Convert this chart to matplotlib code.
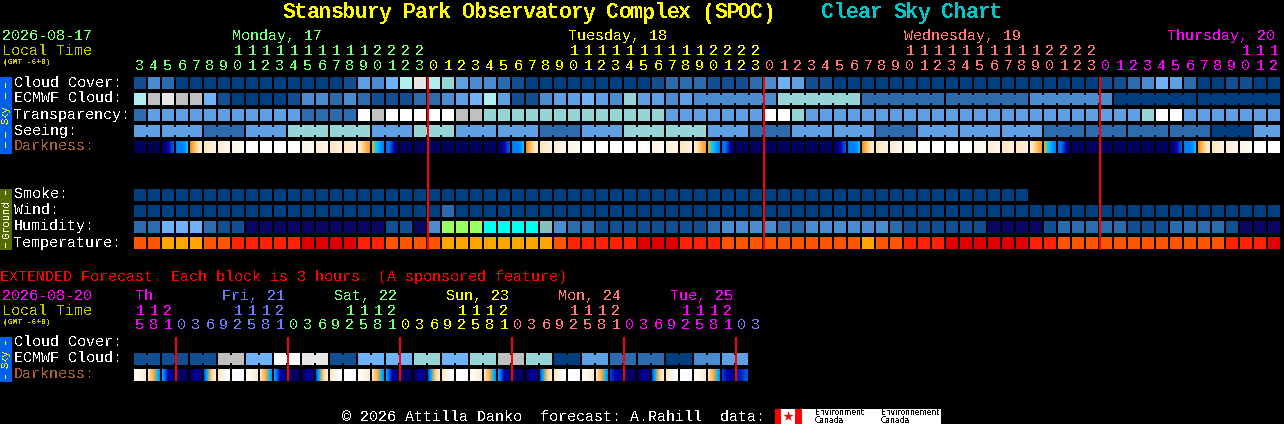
import matplotlib
matplotlib.use('Agg')
import matplotlib.pyplot as plt
from matplotlib.colors import LinearSegmentedColormap

plt.rcParams['text.antialiased'] = False

# level -> colour for the block rows
level_colors = ['#003f7f', '#124f92', '#2c6cae', '#4b8bcf', '#5f9fe3', '#70b2f8',
                '#95d5d5', '#aeeeee', '#c0c0c0', '#e6e6e6', '#ffffff',
                '#0a0560', '#99ff66', '#00ffee', '#85bfbf']
temp_colors = {'o': '#ff5500', 'a': '#ffa500', 'r': '#ff2200', 'd': '#e00000'}

# column hours
col_hours = [3, 4, 5, 6, 7, 8, 9, 10, 11, 12, 13, 14, 15, 16, 17, 18, 19, 20, 21, 22, 23,
             0, 1, 2, 3, 4, 5, 6, 7, 8, 9, 10, 11, 12, 13, 14, 15, 16, 17, 18, 19, 20, 21, 22, 23,
             0, 1, 2, 3, 4, 5, 6, 7, 8, 9, 10, 11, 12, 13, 14, 15, 16, 17, 18, 19, 20, 21, 22, 23,
             0, 1, 2, 3, 4, 5, 6, 7, 8, 9, 10, 11, 12]
day_spans = [21, 24, 24, 13]
day_colors = ['#77ff77', '#ffff00', '#ff7777', '#ff00ff']
day_names = ['Monday, 17', 'Tuesday, 18', 'Wednesday, 19', 'Thursday, 20']
day_x = [232, 568, 904, 1167]

cloud_cover = [1, 3, 2, 0, 0, 0, 0, 0, 0, 0, 0, 0, 0, 0, 0, 1, 4, 3, 5, 7, 9,
               7, 6, 4, 3, 3, 2, 1, 0, 0, 0, 0, 0, 0, 0, 0, 0, 1, 2, 2, 2, 1, 1, 1, 2,
               3, 5, 4, 1, 1, 0, 0, 0, 0, 0, 0, 0, 0, 0, 0, 0, 0, 0, 0, 0, 0, 0, 0, 0,
               1, 1, 2, 3, 5, 4, 2, 0, 0, 1, 1, 0, 0]
ecmwf_cloud = [7, 8, 9, 8, 8, 5, 1, 0, 0, 0, 0, 1, 3, 3, 2, 3, 2, 1, 1, 1, 2,
               2, 3, 4, 5, 7, 4, 1, 1, 3, 4, 4, 5, 4, 3, 6, 4, 4, 3, 4,
               3, 3, 3, 3, 3, 3, 6, 6, 6, 6, 6, 6, 2, 2, 2, 2, 2, 2, 2, 2, 2, 2, 2, 2,
               3, 3, 3, 3, 3, 3, 0, 0, 0, 0, 0, 0, 0, 0, 0, 0, 0, 0]
ecmwf_groups = [1] * 40 + [6] * 7
transparency = [2, 4, 4, 4, 4, 4, 4, 4, 4, 4, 4, 4, 2, 2, 2, 2, 10, 8, 10, 10, 10,
                10, 10, 8, 8, 6, 6, 6, 6, 6, 6, 6, 6, 6, 6, 6, 6, 6, 4, 4, 4, 4, 4, 4, 4,
                10, 10, 6, 4, 4, 4, 4, 4, 4, 4, 4, 4, 4, 4, 4, 4, 4, 4, 4, 4, 4, 4, 4, 4,
                4, 4, 4, 6, 10, 10, 4, 4, 4, 4, 4, 4, 4]
seeing = [4, 4, 4, 4, 4, 2, 2, 2, 4, 4, 4, 6, 6, 6, 6, 6, 6, 4, 4, 4, 6,
          6, 6, 4, 4, 4, 4, 4, 4, 2, 2, 2, 4, 4, 4, 6, 6, 6, 6, 6, 6, 4, 4, 4, 2,
          2, 2, 4, 4, 4, 4, 4, 4, 2, 2, 2, 4, 4, 4, 4, 4, 4, 4, 4, 4, 2, 2, 2, 2,
          2, 2, 2, 2, 2, 2, 2, 2, 0, 0, 0, 4, 4]
seeing_groups = [2] + [3] * 26 + [2]
smoke = [0] * 64
wind = [0] * 22 + [2] + [0] * 59
humidity = [2, 2, 5, 5, 5, 2, 1, 1, 11, 11, 11, 11, 11, 11, 11, 11, 11, 11, 1, 1, 11,
            3, 12, 12, 12, 13, 13, 13, 13, 14, 3, 2, 2, 1, 1, 1, 1, 1, 1, 1, 1, 2, 3, 3, 3,
            3, 2, 2, 3, 3, 3, 3, 3, 3, 2, 1, 1, 1, 1, 1, 1, 11, 11, 11, 11, 1, 2, 2, 2,
            2, 2, 1, 1, 1, 2, 2, 2, 2, 1, 11, 11, 11]
temperature = list('ooaaaoorrrrrddddrrooo'
                   'oaaaaaaaaorrrrrdddrrrooo'
                   'oooooooaoorrrddddddrrooo'
                   'ooooooooorrrd')

# darkness blocks, left to right gradient per key
dark_ramps = {
    'n': ['#00005e', '#00005e'], 'm': ['#000050', '#000050'],
    'A': ['#000060', '#000078', '#0000a0', '#0030d0', '#0058e8'],
    'B': ['#0078f0', '#0080ff', '#0080ff', '#0090ff', '#00c0ff'],
    'C': ['#f09020', '#ffb040', '#ffd090', '#ffe4bc', '#ffecd0'],
    '1': ['#ffe4c0', '#fff0dc'], '2': ['#ffecd4', '#fff6ea'], '3': ['#fff4e6', '#fffaf4'],
    'w': ['#ffffff', '#ffffff'],
    'D': ['#ffecd0', '#ffe0b0', '#ffc878', '#ffb040', '#f0a030'],
    'E': ['#f0a030', '#20d0d0', '#00c0ff', '#0090ff', '#0080f8'],
    'F': ['#0078f0', '#0070f0', '#0030d0', '#000090', '#000070'],
    # extended forecast blocks (3 hours each)
    'p': ['#ffffff', '#fff6ea', '#ffe8cc'],
    'q': ['#ffe4bc', '#ffc878', '#ffa030', '#20c0e0', '#0090ff'],
    'r': ['#00a0ff', '#0060e8', '#0000b0', '#000090', '#000078'],
    's': ['#000070', '#000068', '#000060'],
    't': ['#000060', '#000078', '#000090', '#0000a0', '#000060'],
    'u': ['#0060e0', '#00b0ff', '#ffb040', '#ffe0b0', '#ffecd0'],
    'v': ['#ffe8cc', '#fff6ea', '#ffffff'],
    'x': ['#0040d8', '#0010b0', '#0000a0', '#000090'],
    'y': ['#0030c8', '#0018b8', '#0040d0', '#0058e0'],
}
darkness = ['n', 'm', 'A', 'B', 'C', '1', '2', '3', 'w', 'w', 'w', 'w', '3', '2', '1', '1', 'D', 'E', 'F', 'n', 'n',
            'n', 'n', 'n', 'n', 'n', 'A', 'B', 'C', '1', '2', '3', 'w', 'w', 'w', 'w', 'w', '3', '2', '1', 'D', 'E', 'F', 'n', 'n',
            'n', 'n', 'n', 'n', 'n', 'A', 'B', 'C', '1', '2', '3', 'w', 'w', 'w', 'w', '3', '2', '1', '1', 'D', 'E', 'F', 'n', 'n',
            'n', 'n', 'n', 'n', 'n', 'A', 'B', 'C', '1', '2', '3', 'w', 'w']

# extended forecast
ext_hours = [15, 18, 21, 0, 3, 6, 9, 12, 15, 18, 21, 0, 3, 6, 9, 12, 15, 18, 21, 0, 3, 6, 9, 12,
             15, 18, 21, 0, 3, 6, 9, 12, 15, 18, 21, 0, 3, 6, 9, 12, 15, 18, 21, 0, 3]
ext_spans = [3, 8, 8, 8, 8, 8, 2]
ext_colors = ['#ff00ff', '#6c7cff', '#77ff77', '#ffff00', '#ff7777', '#ff00ff', '#6c7cff']
ext_names = ['Th', 'Fri, 21', 'Sat, 22', 'Sun, 23', 'Mon, 24', 'Tue, 25']
ext_x = [135, 222, 334, 446, 558, 670]
ext_ecmwf = [1, 1, 1, 1, 1, 1, 8, 8, 5, 5, 10, 10, 9, 9, 1, 1, 5, 5, 5, 5, 6, 6,
             5, 5, 6, 6, 8, 8, 6, 6, 0, 0, 4, 4, 2, 2, 2, 2, 0, 0, 3, 3, 4, 4]
ext_dark = ['p', 'q', 'r', 's', 't', 'u', 'v', 'w', 'p', 'q', 'r', 's', 't', 'u', 'v', 'w',
            'p', 'q', 'r', 's', 't', 'u', 'v', 'w', 'p', 'q', 'r', 's', 't', 'u', 'v', 'w',
            'p', 'q', 'x', 's', 't', 'u', 'v', 'w', 'p', 'q', 'x', 'y']

X0 = 134
PITCH = 14
BLOCK = 12
MONO = 'Liberation Mono'

fig = plt.figure(figsize=(12.84, 4.24), dpi=100, facecolor='black')
ax = fig.add_axes([0, 0, 1, 1])
ax.set_xlim(0, 1284)
ax.set_ylim(424, 0)
ax.axis('off')


def txt(x, y, s, color='white', px=15, **kw):
    ax.text(x, y, s, color=color, fontsize=px * 0.72, family=MONO, va='baseline', **kw)


def title_txt(x, s, color):
    # one glyph at a time: taller letters than the 12 px cell would allow
    for i, ch in enumerate(s):
        ax.text(x + 12 * i + 6, 18.5, ch, color=color, fontsize=15.5, family=MONO, weight='bold',
                ha='center', va='baseline')


def rect(x, y, w, h, color):
    ax.bar(x, h, width=w, bottom=y, color=color, align='edge', linewidth=0, antialiased=False)


def block_row(y, values, groups=None, colors=level_colors):
    xs = [X0 + PITCH * i for i in range(len(values))]
    cols = [colors[v] for v in values]
    rect(xs, y, BLOCK, BLOCK, cols)
    if groups:
        i = 0
        for g in groups:
            for j in range(i, i + g - 1):
                rect(xs[j] + BLOCK, y + 2, PITCH - BLOCK, BLOCK - 4, cols[j])
            i += g


def dark_row(y, keys):
    for i, k in enumerate(keys):
        cmap = LinearSegmentedColormap.from_list(k, dark_ramps[k])
        xs = [X0 + PITCH * i + p for p in range(BLOCK)]
        rect(xs, y, 1, BLOCK, [cmap(p / (BLOCK - 1)) for p in range(BLOCK)])


def hour_labels(hours, spans, colors, y_tens, y_units):
    i = 0
    for span, c in zip(spans, colors):
        for h in hours[i:i + span]:
            x = X0 + PITCH * i + 6
            if h >= 10:
                txt(x, y_tens, str(h // 10), c, ha='center')
            txt(x, y_units, str(h % 10), c, ha='center')
            i += 1


def side_text(y, word, c, dashes):
    ax.text(6, y, word, color=c, fontsize=7.6, family=MONO, rotation=90, ha='center', va='center')
    for d0, d1 in dashes:
        rect(5, d0, 1, d1 - d0, c)


# title
title_txt(283, 'Stansbury Park Observatory Complex (SPOC)', '#ffff00')
title_txt(822, 'Clear Sky Chart', '#00c8c8')

# top header
txt(2, 40, '2026-08-17', '#77ff77')
txt(2, 55, 'Local Time', '#c8c800')
txt(3, 64, '(GMT -6+0)', '#c8c800', px=8, weight='bold')
for x, name, c in zip(day_x, day_names, day_colors):
    txt(x, 40, name, c)
hour_labels(col_hours, day_spans, day_colors, 55, 70)

# rows
row_labels = ['Cloud Cover:', 'ECMWF Cloud:', 'Transparency:', 'Seeing:']
for y, lab in zip([87, 102.5, 118.5, 134.5], row_labels):
    txt(14, y, lab)
txt(14, 150.5, 'Darkness:', '#aa6030')
block_row(77, cloud_cover)
block_row(93, ecmwf_cloud, ecmwf_groups)
block_row(109, transparency)
block_row(125, seeing, seeing_groups)
dark_row(141, darkness)

for y, lab in zip([198, 214, 230, 246.5], ['Smoke:', 'Wind:', 'Humidity:', 'Temperature:']):
    txt(14, y, lab)
block_row(189, smoke)
block_row(205, wind)
block_row(221, humidity)
block_row(237, temperature, colors=temp_colors)

# side bars
rect(0, 77, 12, 77, '#0060f0')
rect(0, 189, 12, 61, '#556b00')
rect(0, 337, 12, 45, '#0060f0')
side_text(115, 'Sky', '#ffff00', [(83, 88), (93, 99), (132, 138), (142, 148)])
side_text(219, 'Ground', 'white', [(191, 195), (243, 248)])
side_text(359, 'Sky', '#ffff00', [(341, 345), (375, 379)])

# midnight lines
top_midnights = [i for i, h in enumerate(col_hours) if h == 0]
for i in top_midnights:
    rect(X0 + PITCH * i - 1, 77, 2, 173, '#ff0000')

# extended forecast
txt(0, 281, 'EXTENDED Forecast. Each block is 3 hours. (A sponsored feature)', '#ff0000')
txt(2, 300, '2026-08-20', '#ff00ff')
txt(2, 315, 'Local Time', '#c8c800')
txt(3, 324, '(GMT -6+0)', '#c8c800', px=8, weight='bold')
for x, name, c in zip(ext_x, ext_names, ext_colors):
    txt(x, 300, name, c)
hour_labels(ext_hours, ext_spans, ext_colors, 315, 329)
txt(14, 346, 'Cloud Cover:')
txt(14, 362, 'ECMWF Cloud:')
txt(14, 378, 'Darkness:', '#aa6030')
block_row(353, ext_ecmwf, [2] * 22)
dark_row(369, ext_dark)
for i, h in enumerate(ext_hours[:44]):
    if h == 0:
        rect(X0 + PITCH * i - 1, 337, 2, 44, '#ff0000')

# footer
txt(342, 421, '\u00a9 2026 Attilla Danko  forecast: A.Rahill  data:')
rect(775, 409, 166, 15, 'white')
rect(775, 409, 6, 15, '#ff0000')
rect(795, 409, 7, 15, '#ff0000')
ax.scatter([788], [416], marker='*', s=60, color='#ff0000', linewidths=0)
for x, s in [(815, 'Environment\nCanada'), (881, 'Environnement\nCanada')]:
    ax.text(x, 416.5, s, color='black', fontsize=5.5, family='DejaVu Sans', va='center', linespacing=0.9)

fig.savefig('out.png', dpi=100, facecolor='black')
